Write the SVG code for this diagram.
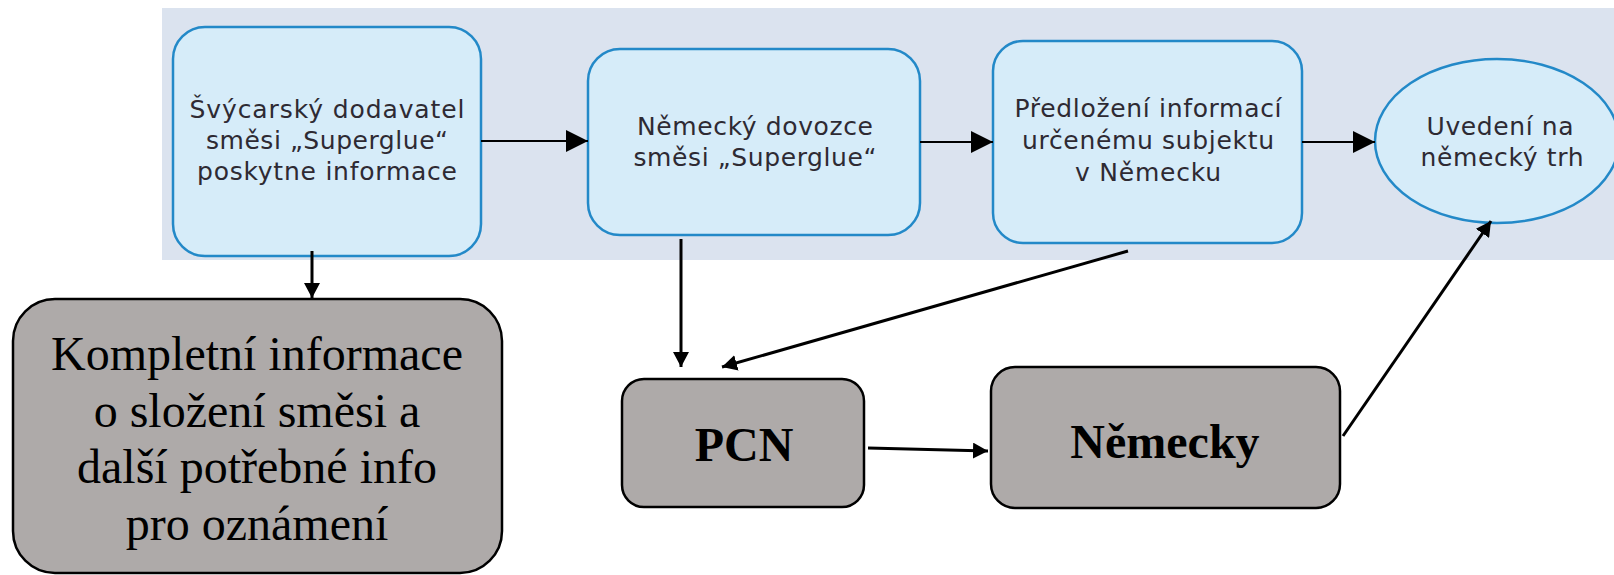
<svg xmlns="http://www.w3.org/2000/svg" width="1614" height="575" viewBox="0 0 1614 575">
<style>
.blue{fill:#d6ecf9;stroke:#2389c8;stroke-width:2.5}
.gray{fill:#aeaaa9;stroke:#000;stroke-width:2.5}
.bt{font-family:"DejaVu Sans",Verdana,sans-serif;font-size:25px;fill:#2e2a33;text-anchor:middle}
.st{font-family:"Liberation Serif","Times New Roman",serif;font-size:48px;fill:#000;text-anchor:middle}
.sb{font-family:"Liberation Serif","Times New Roman",serif;font-size:48px;font-weight:bold;fill:#000;text-anchor:middle}
.c1{stroke:#000;stroke-width:2;fill:none}
.c2{stroke:#000;stroke-width:3;fill:none}
</style>
<defs>
<marker id="big" markerUnits="userSpaceOnUse" markerWidth="22" markerHeight="22" refX="22" refY="11" orient="auto"><path d="M0,0 L22,11 L0,22 z" fill="#000"/></marker>
<marker id="small" markerUnits="userSpaceOnUse" markerWidth="16" markerHeight="16" refX="15" refY="8" orient="auto"><path d="M0,0 L15,8 L0,16 z" fill="#000"/></marker>
</defs>
<rect id="band" x="162" y="8" width="1452" height="252" fill="#dbe3ef"/>
<g id="box1">
<rect class="blue" x="173" y="27" width="308" height="229" rx="32"/>
<text class="bt" x="327" y="118" textLength="275" lengthAdjust="spacing">Švýcarský dodavatel</text>
<text class="bt" x="327" y="149" textLength="242" lengthAdjust="spacing">směsi „Superglue“</text>
<text class="bt" x="327" y="180" textLength="260" lengthAdjust="spacing">poskytne informace</text>
</g>
<g id="box2">
<rect class="blue" x="588" y="49" width="332" height="186" rx="32"/>
<text class="bt" x="755" y="135" textLength="236" lengthAdjust="spacing">Německý dovozce</text>
<text class="bt" x="755" y="166" textLength="243" lengthAdjust="spacing">směsi „Superglue“</text>
</g>
<g id="box3">
<rect class="blue" x="993" y="41" width="309" height="202" rx="30"/>
<text class="bt" x="1148" y="117" textLength="267" lengthAdjust="spacing">Předložení informací</text>
<text class="bt" x="1148" y="149" textLength="252" lengthAdjust="spacing">určenému subjektu</text>
<text class="bt" x="1148" y="181" textLength="146" lengthAdjust="spacing">v Německu</text>
</g>
<g id="market">
<ellipse class="blue" cx="1497" cy="141" rx="122" ry="82"/>
<text class="bt" x="1500" y="135" textLength="147" lengthAdjust="spacing">Uvedení na</text>
<text class="bt" x="1502" y="166" textLength="163" lengthAdjust="spacing">německý trh</text>
</g>
<g id="info">
<rect class="gray" x="13" y="299" width="489" height="274" rx="42"/>
<text class="st" x="257" y="370">Kompletní informace</text>
<text class="st" x="257" y="427">o složení směsi a</text>
<text class="st" x="257" y="483">další potřebné info</text>
<text class="st" x="257" y="540">pro oznámení</text>
</g>
<g id="pcn">
<rect class="gray" x="622" y="379" width="242" height="128" rx="22"/>
<text class="sb" x="744" y="461">PCN</text>
</g>
<g id="nemecky">
<rect class="gray" x="991" y="367" width="349" height="141" rx="24"/>
<text class="sb" x="1165" y="458">Německy</text>
</g>
<g id="connectors">
<path class="c1" d="M481,141 L588,141" marker-end="url(#big)"/>
<path class="c1" d="M920,142 L993,142" marker-end="url(#big)"/>
<path class="c1" d="M1302,142 L1375,142" marker-end="url(#big)"/>
<path class="c2" d="M312,251 L312,298" marker-end="url(#small)"/>
<path class="c2" d="M681,239 L681,367" marker-end="url(#small)"/>
<path class="c2" d="M1128,251 L722,367" marker-end="url(#small)"/>
<path class="c2" d="M868,448 L988,451" marker-end="url(#small)"/>
<path class="c2" d="M1343,436 L1491,221" marker-end="url(#small)"/>
</g>
</svg>
